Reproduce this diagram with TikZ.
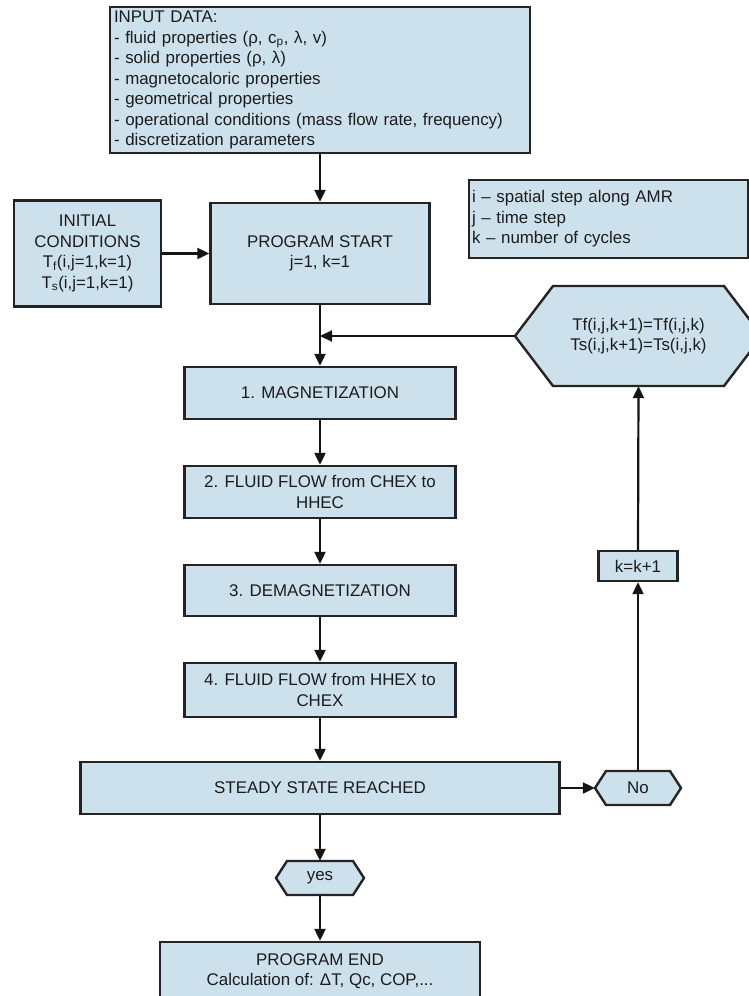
\documentclass[tikz,border=0pt]{standalone}
\usepackage{fontspec}
\setmainfont{Liberation Sans}
\usetikzlibrary{arrows.meta}

\definecolor{boxfill}{RGB}{205,225,237}
\definecolor{boxline}{RGB}{36,36,36}
\definecolor{inktext}{RGB}{28,28,28}

\tikzset{
  every node/.style={font=\fontsize{16.9}{20.5}\selectfont, text=inktext},
  box/.style={draw=boxline, fill=boxfill, line width=2.4pt, rectangle, inner sep=0pt, align=center},
  hexfill/.style={draw=boxline, fill=boxfill, line width=2.4pt, line join=miter},
  arr/.style={draw=black!92, line width=2.2pt, -{Triangle[length=12pt,width=11pt]}},
  link/.style={draw=black!92, line width=2.2pt},
}

% hexagonal decision node: name, x, y, width, height, slant, text
\newcommand\hexstep[7]{%
  \path[hexfill] ({#2-#4/2},#3) -- ({#2-#4/2+#6},{#3-#5/2}) -- ({#2+#4/2-#6},{#3-#5/2})
    -- ({#2+#4/2},#3) -- ({#2+#4/2-#6},{#3+#5/2}) -- ({#2-#4/2+#6},{#3+#5/2}) -- cycle;
  \node[minimum width=#4pt, minimum height=#5pt, inner sep=0pt, align=center] (#1) at (#2,#3) {#7};
}

\begin{document}
\begin{tikzpicture}[x=1pt, y=-1pt]
\clip (0,0) rectangle (749,996);
\fill[white] (0,0) rectangle (749,996);

% input data
\node[box, minimum width=420pt, minimum height=146pt, text width=412pt, align=left] (input) at (320,80)
  {INPUT DATA:\\
   - fluid properties (ρ, c\textsubscript{p}, λ, v)\\
   - solid properties (ρ, λ)\\
   - magnetocaloric properties\\
   - geometrical properties\\
   - operational conditions (mass flow rate, frequency)\\
   - discretization parameters};

% legend of indices
\node[box, minimum width=279pt, minimum height=78pt, text width=273pt, align=left] (legend) at (608.5,219)
  {i – spatial step along AMR\\
   j – time step\\
   k – number of cycles};

% initial conditions and start
\node[box, minimum width=147pt, minimum height=106pt] (ic) at (87.5,253.5)
  {INITIAL\\CONDITIONS\\T\textsubscript{f}(i,j=1,k=1)\\T\textsubscript{s}(i,j=1,k=1)};
\node[box, minimum width=219pt, minimum height=101pt] (start) at (320,253.5)
  {PROGRAM START\\j=1, k=1};

% cycle steps
\node[box, minimum width=271pt, minimum height=52pt] (mag) at (320,393) {1. MAGNETIZATION};
\node[box, minimum width=271pt, minimum height=52pt] (ff2) at (320,492) {2. FLUID FLOW from CHEX to\\HHEC};
\node[box, minimum width=271pt, minimum height=51pt] (demag) at (320,590.5) {3. DEMAGNETIZATION};
\node[box, minimum width=271pt, minimum height=54pt] (ff4) at (320,690) {4. FLUID FLOW from HHEX to\\CHEX};
\node[box, minimum width=479pt, minimum height=52pt] (steady) at (320,788) {STEADY STATE REACHED};

% decisions and loop update
\hexstep{fb}{638.5}{336}{247}{100}{38}{Tf(i,j,k+1)=Tf(i,j,k)\\Ts(i,j,k+1)=Ts(i,j,k)}
\hexstep{no}{638}{788}{86}{34}{11}{No}
\hexstep{yes}{320}{878}{88}{34}{11}{yes}
\node[box, minimum width=79pt, minimum height=30pt] (kinc) at (638,566) {k=k+1};

% end
\node[box, minimum width=320pt, minimum height=58pt] (end) at (320,971)
  {PROGRAM END\\Calculation of: ΔT, Qc, COP,...};

% connectors
\coordinate (join) at (start.south |- fb.west);
\draw[arr] (input.south) -- (start.north);
\draw[arr] (ic.east) -- (start.west);
\draw[arr] (start.south) -- (mag.north);
\draw[arr] (fb.west) -- (join);
\draw[arr] (mag.south) -- (ff2.north);
\draw[arr] (ff2.south) -- (demag.north);
\draw[arr] (demag.south) -- (ff4.north);
\draw[arr] (ff4.south) -- (steady.north);
\draw[arr] (steady.east) -- (no.west);
\draw[arr] (no.north) -- (kinc.south);
\draw[arr] (kinc.north) -- (fb.south);
\draw[arr] (steady.south) -- (yes.north);
\draw[arr] (yes.south) -- (end.north);
\end{tikzpicture}
\end{document}
